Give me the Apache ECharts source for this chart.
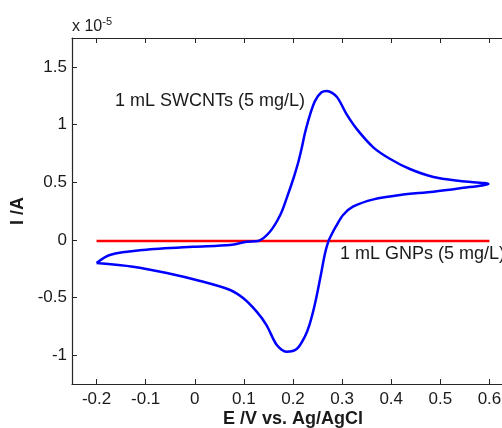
<!DOCTYPE html>
<html><head><meta charset="utf-8">
<script src="https://cdn.jsdelivr.net/npm/echarts@6/dist/echarts.min.js"></script>
<style>html,body{margin:0;padding:0;background:#fff}#c{width:502px;height:428px}</style>
</head><body><div id="c"></div>
<script>
// SWCNTs cyclic voltammogram (E in V, I in 1e-5 A)
const swcntE = [-0.200,-0.173,-0.105,-0.004,0.072,0.106,0.129,0.153,0.174,0.187,0.201,0.211,0.218,0.224,0.235,0.245,0.258,0.269,0.289,0.309,0.330,0.364,0.398,0.438,0.486,0.540,0.598,
  0.540,0.486,0.418,0.364,0.322,0.302,0.288,0.277,0.272,0.265,0.256,0.245,0.234,0.224,0.208,0.187,0.167,0.146,0.126,0.099,0.072,0.011,-0.057,-0.126,-0.200];
const swcntI = [-0.201,-0.131,-0.088,-0.060,-0.045,-0.016,-0.010,0.070,0.215,0.360,0.534,0.677,0.800,0.920,1.090,1.205,1.279,1.290,1.241,1.090,0.960,0.800,0.701,0.614,0.545,0.510,0.484,
  0.447,0.417,0.389,0.351,0.287,0.215,0.120,0.033,-0.013,-0.120,-0.320,-0.550,-0.730,-0.840,-0.945,-0.970,-0.912,-0.739,-0.623,-0.507,-0.435,-0.357,-0.288,-0.233,-0.201];
// GNPs flat response
const gnpE = [-0.2, 0.6];
const gnpI = [-0.01, -0.01];
const xTicks = [-0.2,-0.1,0,0.1,0.2,0.3,0.4,0.5,0.6];
const yTicks = [-1,-0.5,0,0.5,1,1.5];

const swcnt = swcntE.map((e,i)=>[e, swcntI[i]]);
const gnp = gnpE.map((e,i)=>[e, gnpI[i]]);
const axisCol = '#262626';
const fnt = 'Liberation Sans, Arial, sans-serif';

const chart = echarts.init(document.getElementById('c'));
const xBase = {type:'value', min:-0.25, max:0.65,
  axisLine:{show:true, onZero:false, lineStyle:{color:axisCol, width:1.2}},
  axisTick:{show:true, inside:true, length:5, customValues:xTicks, lineStyle:{color:axisCol}},
  splitLine:{show:false}};
chart.setOption({
  animation:false,
  grid:{left:72, top:38, width:442, height:346, containLabel:false, outerBoundsMode:'none'},
  xAxis:[
    Object.assign({}, xBase, {position:'bottom',
      axisLabel:{show:true, customValues:xTicks, color:'#1a1a1a', fontSize:17, fontFamily:fnt, margin:7,
        formatter:v=>String(Math.round(v*10)/10)}}),
    Object.assign({}, xBase, {position:'top', axisLabel:{show:false}})
  ],
  yAxis:[{type:'value', min:-1.25, max:1.75, position:'left',
    axisLine:{show:true, onZero:false, lineStyle:{color:axisCol, width:1.2}},
    axisTick:{show:true, inside:true, length:5, customValues:yTicks, lineStyle:{color:axisCol}},
    axisLabel:{show:true, customValues:yTicks, color:'#1a1a1a', fontSize:17, fontFamily:fnt, margin:5,
      formatter:v=>String(Math.round(v*10)/10)},
    splitLine:{show:false},
    name:'I /A', nameLocation:'middle', nameGap:38, nameRotate:90,
    nameTextStyle:{fontSize:18, fontWeight:'bold', color:'#1a1a1a', fontFamily:fnt}}],
  graphic:[
    {type:'text', x:293, y:419, style:{text:'E /V vs. Ag/AgCl', fontSize:18, fontWeight:'bold', fontFamily:fnt, fill:'#1a1a1a', textAlign:'center', textVerticalAlign:'middle'}},
    {type:'text', left:72, top:16, style:{rich:{a:{fontSize:16, fontFamily:fnt, fill:'#1a1a1a'}, b:{fontSize:11, fontFamily:fnt, fill:'#1a1a1a', verticalAlign:'top', padding:[0,0,10,0]}}, text:'{a|x 10}{b|-5}'}},
    {type:'text', left:115, top:92, style:{text:'1 mL SWCNTs (5 mg/L)', fontSize:18, fontFamily:fnt, fill:'#1a1a1a'}},
    {type:'text', left:340, top:245, style:{text:'1 mL GNPs (5 mg/L)', fontSize:18, fontFamily:fnt, fill:'#1a1a1a'}}
  ],
  series:[
    {type:'line', data:gnp, showSymbol:false, lineStyle:{color:'#ff0000', width:2.5}, z:2},
    {type:'line', data:swcnt, showSymbol:false, smooth:0.3, lineStyle:{color:'#0000ff', width:2.5}, z:3}
  ]
});
</script></body></html>
